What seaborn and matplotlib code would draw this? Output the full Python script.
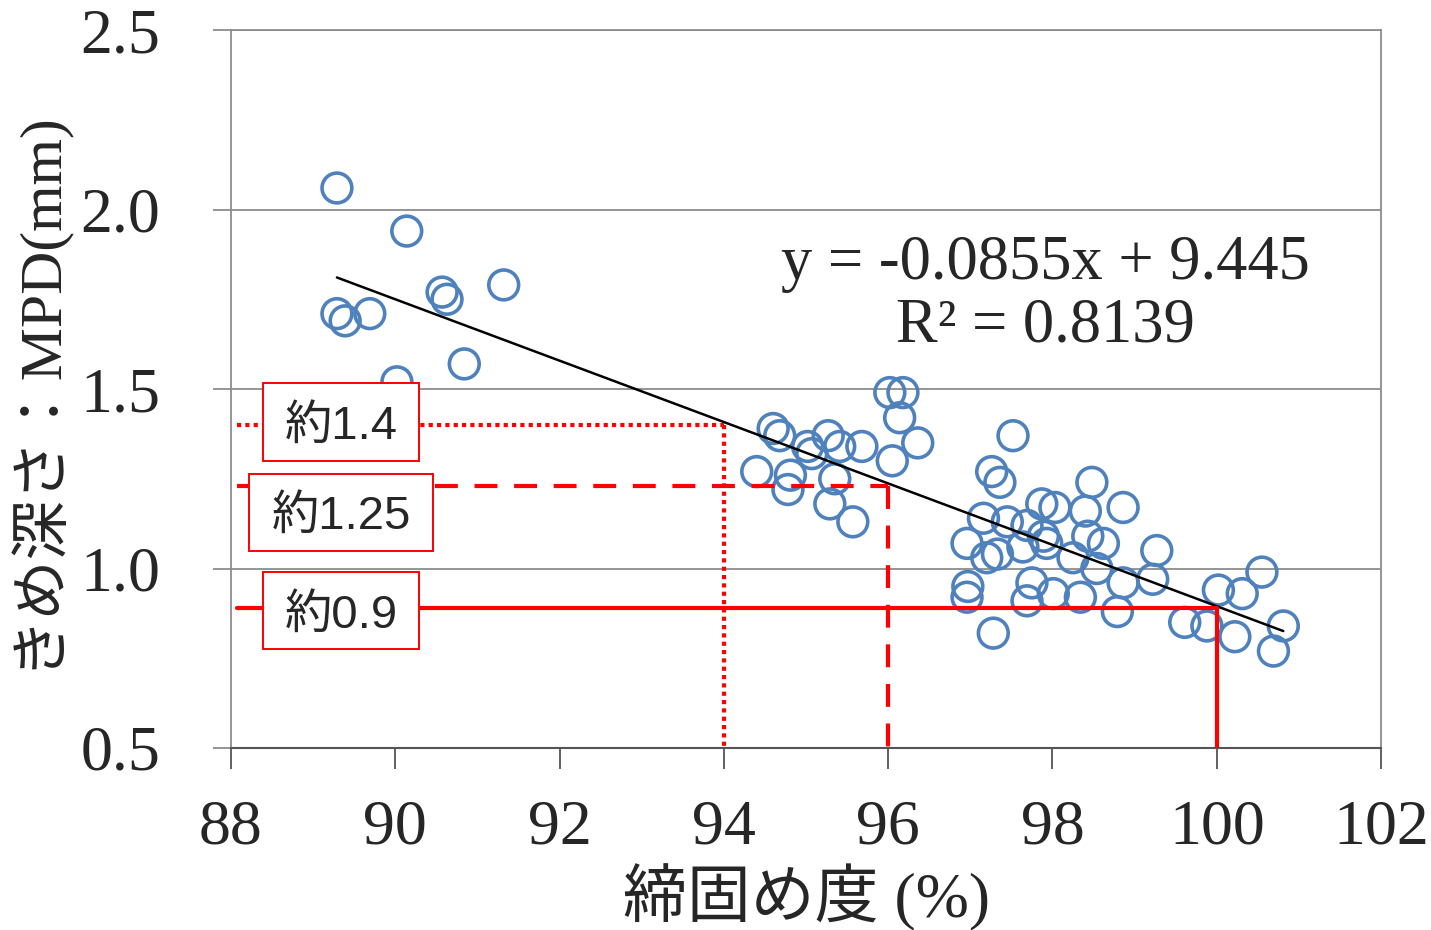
import numpy as np
import pandas as pd
import matplotlib
matplotlib.use('Agg')
import matplotlib.pyplot as plt
from matplotlib.patches import Rectangle
import seaborn as sns

# 締固め度 (%) と きめ深さ MPD (mm)
compaction = [
    89.29, 90.14, 90.57, 90.63, 91.32, 89.29, 89.39, 89.69, 90.84, 90.02,
    96.02, 96.18, 96.14, 94.60, 94.68, 96.36, 95.02, 95.27, 95.41, 95.68,
    95.07, 96.05, 94.40, 94.81, 95.35, 94.78, 95.29, 95.57,
    97.52, 97.26, 97.36, 98.48, 98.86, 97.87, 98.03, 98.40, 97.16, 97.45,
    97.69, 96.96, 97.20, 97.33, 97.64, 97.93, 97.89, 98.43, 98.62, 98.25,
    98.54, 99.27, 99.22, 98.86, 97.75, 98.01, 98.34, 97.69, 96.97, 96.96,
    98.79, 97.28, 99.61,
    100.55, 100.02, 100.31, 99.88, 100.22, 100.81, 100.69,
]
mpd = [
    2.06, 1.94, 1.77, 1.75, 1.79, 1.71, 1.69, 1.71, 1.57, 1.52,
    1.49, 1.49, 1.42, 1.39, 1.37, 1.35, 1.34, 1.37, 1.34, 1.34,
    1.32, 1.30, 1.27, 1.26, 1.25, 1.22, 1.18, 1.13,
    1.37, 1.27, 1.24, 1.24, 1.17, 1.18, 1.17, 1.16, 1.14, 1.13,
    1.12, 1.07, 1.03, 1.04, 1.06, 1.07, 1.09, 1.09, 1.07, 1.03,
    1.00, 1.05, 0.97, 0.96, 0.96, 0.93, 0.92, 0.91, 0.95, 0.92,
    0.88, 0.82, 0.85,
    0.99, 0.94, 0.93, 0.84, 0.81, 0.84, 0.77,
]

# 回帰式 y = a x + b
slope, intercept = -0.0855, 9.445
eq_text = 'y = -0.0855x + 9.445\nR² = 0.8139'

# 参照線 (締固め度, MPD, ラベル)
ref_x = [94, 96, 100]
ref_y = [1.40, 1.23, 0.89]
ref_labels = ['約1.4', '約1.25', '約0.9']

x_ticks = [88, 90, 92, 94, 96, 98, 100, 102]
y_ticks = [0.5, 1.0, 1.5, 2.0, 2.5]

df = pd.DataFrame({'x': compaction, 'y': mpd})

sns.set_style('white')
plt.rcParams['font.family'] = ['Liberation Serif', 'Noto Sans CJK JP']

fig = plt.figure(figsize=(14.31, 9.30), dpi=100)
ax = fig.add_axes([0.1614, 0.1957, 0.8037, 0.772])

sns.scatterplot(data=df, x='x', y='y', ax=ax, s=460, facecolor='none',
                edgecolor='#4F81BD', linewidth=2.6, zorder=3, legend=False)

# 回帰直線
xl = np.array([min(compaction), max(compaction)])
sns.lineplot(x=xl, y=slope * xl + intercept, ax=ax, color='black', lw=1.8, zorder=4)

# 参照線 + ラベル枠
styles = [(0, (1, 1)), (0, (5.5, 4)), '-']
box_w = [1.89, 2.23, 1.89]       # 枠の幅 (x単位)
box_dy = [0.008, -0.073, -0.008]  # 線に対する枠中心のずれ
box_h = 0.215
for i, (xr, yr, lab, ls) in enumerate(zip(ref_x, ref_y, ref_labels, styles)):
    ax.plot([88.07, xr], [yr, yr], color='#FF0000', lw=3, ls=ls,
            dash_capstyle='butt', zorder=5)
    ax.plot([xr, xr], [yr, 0.5], color='#FF0000', lw=3, ls=ls,
            dash_capstyle='butt', zorder=5)
    cy = yr + box_dy[i]
    ax.add_patch(Rectangle((89.34 - box_w[i] / 2, cy - box_h / 2), box_w[i], box_h,
                           fc='white', ec='#FF0000', lw=1.4, zorder=6))
    ax.text(89.34, cy, lab, ha='center', va='center_baseline', fontsize=34,
            family=['Liberation Sans', 'Noto Sans CJK JP'], zorder=7)

ax.text(97.91, 1.76, eq_text, ha='center', va='center', fontsize=45,
        linespacing=1.1, zorder=6)

ax.set_xlim(88, 102)
ax.set_ylim(0.5, 2.5)
ax.set_xticks(x_ticks)
ax.set_yticks(y_ticks)
ax.set_yticklabels([f'{v:.1f}' for v in y_ticks])
ax.yaxis.grid(True, color='#8C8C8C', lw=1.3)
ax.xaxis.grid(False)
ax.tick_params(axis='x', direction='out', length=15, width=1.3, color='#555555',
               labelsize=46, pad=22, bottom=True)
ax.tick_params(axis='y', direction='out', length=13, width=1.3, color='#8C8C8C',
               labelsize=46, pad=38, left=True)
for side in ['left', 'right', 'top']:
    ax.spines[side].set_color('#8C8C8C')
    ax.spines[side].set_linewidth(1.3)
ax.spines['bottom'].set_color('#555555')
ax.spines['bottom'].set_linewidth(1.5)

ax.set_xlabel('締固め度 (%)', fontsize=46)
ax.set_ylabel('きめ深さ：MPD(mm)', fontsize=43)
ax.xaxis.set_label_coords(0.5, -0.162)
ax.yaxis.set_label_coords(-0.144, 0.5)

fig.savefig('out.png', dpi=100)
